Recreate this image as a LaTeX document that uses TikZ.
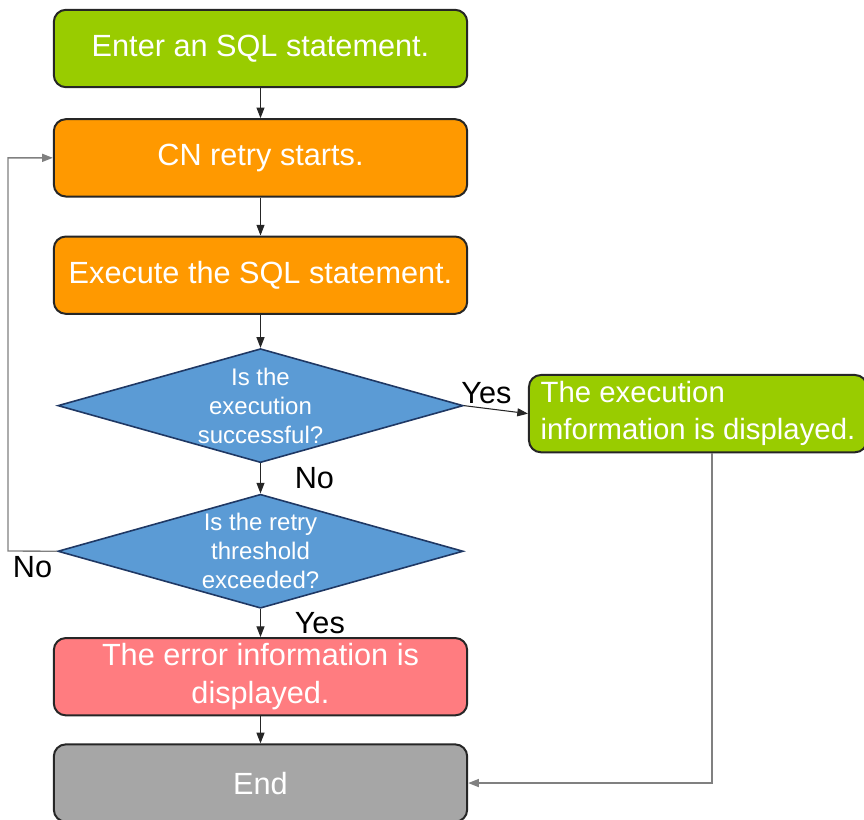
\documentclass[tikz,border=0pt]{standalone}
\usepackage{fontspec}
\setmainfont{Liberation Sans}
\usetikzlibrary{positioning, shapes.geometric, arrows.meta}
\definecolor{startgreen}{HTML}{99CC00}
\definecolor{runorange}{HTML}{FF9900}
\definecolor{askblue}{HTML}{5B9BD5}
\definecolor{asknavy}{HTML}{1F3864}
\definecolor{errpink}{HTML}{FF7C80}
\definecolor{endgray}{HTML}{A6A6A6}
\definecolor{boxline}{HTML}{262626}

\begin{document}
\begin{tikzpicture}[x=0.75pt, y=-0.75pt, node distance=22.5pt,
    box/.style={rectangle, rounded corners=9pt, draw=boxline, line width=1.5pt,
                minimum width=310pt, minimum height=58pt, text=white,
                font=\fontsize{23}{28}\selectfont, align=center},
    decision/.style={diamond, draw=asknavy, line width=1.2pt, fill=askblue,
                minimum width=304pt, minimum height=85.5pt, inner sep=0pt},
    dtext/.style={text=white, font=\fontsize{18}{21.75}\selectfont, align=center},
    lbl/.style={font=\fontsize{23}{28}\selectfont, text=black},
    flow/.style={-{Triangle[length=8pt, width=6pt]}, line width=0.8pt, draw=black!85},
    back/.style={-{Triangle[length=8pt, width=6pt]}, line width=1pt, draw=black!50}]
    \useasboundingbox (0,0) rectangle (864,819);
    \node[box, fill=startgreen] (enter) at (260.5,48.5) {Enter an SQL statement.};
    \node[box, fill=runorange, below=of enter] (retry) {CN retry starts.};
    \node[box, fill=runorange, below=28.5pt of retry] (exec) {Execute the SQL statement.};
    \node[decision, below=24.75pt of exec, label={[dtext]center:{Is the\\execution\\successful?}}] (ok) {};
    \node[decision, below=of ok, label={[dtext]center:{Is the retry\\threshold\\exceeded?}}] (limit) {};
    \node[box, fill=errpink, below=21pt of limit] (err) {The error information is\\displayed.};
    \node[box, fill=endgray, below=20.25pt of err] (done) {End};
    \node[box, fill=startgreen, minimum width=253.5pt, align=left,
          font=\fontsize{22}{27.5}\selectfont,
          right=48pt of ok, yshift=-6pt] (info) {The execution\\information is displayed.};
    \coordinate (bend) at (8,551);
    \coordinate (drop) at (712,783);
    \draw[flow] (enter) -- (retry);
    \draw[flow] (retry) -- (exec);
    \draw[flow] (exec) -- (ok);
    \draw[flow] (ok) -- node[lbl, right=22pt] (no1) {No} (limit);
    \draw[flow] (limit) -- node[lbl, right=22pt] (yes2) {Yes} (err);
    \draw[flow] (err) -- (done);
    \draw[flow] (ok.east) -- node[lbl, above, pos=0.35] (yes1) {Yes} (info.west);
    \draw[back] (limit.west) -- node[lbl, below] (no2) {No} (bend) |- (retry.west);
    \draw[back] (info.south -| drop) |- (done.east);
\end{tikzpicture}
\end{document}
